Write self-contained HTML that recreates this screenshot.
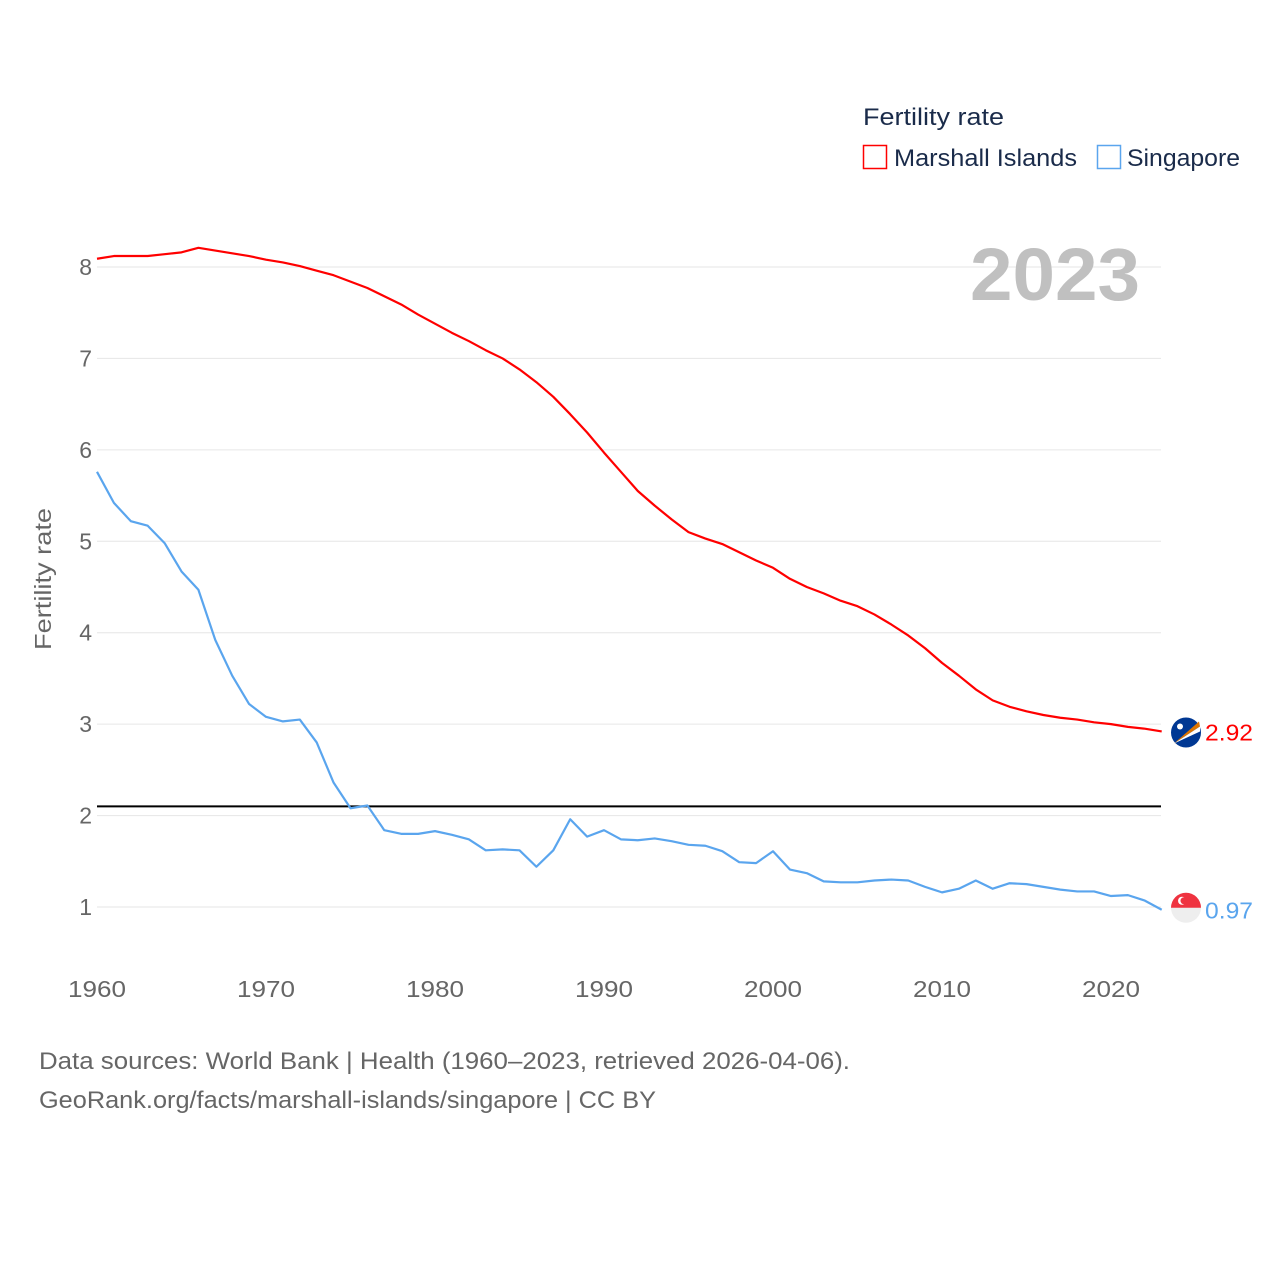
<!DOCTYPE html>
<html><head><meta charset="utf-8">
<style>
body{margin:0;background:#fff;font-family:"Liberation Sans",sans-serif;}
svg{display:block}
</style></head>
<body>
<svg id="chart" width="1280" height="1280">
</svg>
<script>
const years=[];for(let y=1960;y<=2023;y++)years.push(y);
const marshall=[8.09,8.12,8.12,8.12,8.14,8.16,8.21,8.18,8.15,8.12,8.08,8.05,8.01,7.96,7.91,7.84,7.77,7.68,7.59,7.48,7.38,7.28,7.19,7.09,7.00,6.88,6.74,6.58,6.39,6.19,5.97,5.76,5.55,5.39,5.24,5.10,5.03,4.97,4.88,4.79,4.71,4.59,4.50,4.43,4.35,4.29,4.20,4.09,3.97,3.83,3.67,3.53,3.38,3.26,3.19,3.14,3.10,3.07,3.05,3.02,3.00,2.97,2.95,2.92];
const singapore=[5.76,5.42,5.22,5.17,4.98,4.67,4.47,3.92,3.53,3.22,3.08,3.03,3.05,2.80,2.36,2.08,2.11,1.84,1.80,1.80,1.83,1.79,1.74,1.62,1.63,1.62,1.44,1.62,1.96,1.77,1.84,1.74,1.73,1.75,1.72,1.68,1.67,1.61,1.49,1.48,1.61,1.41,1.37,1.28,1.27,1.27,1.29,1.30,1.29,1.22,1.16,1.20,1.29,1.20,1.26,1.25,1.22,1.19,1.17,1.17,1.12,1.13,1.07,0.97];
const yTicks=[1,2,3,4,5,6,7,8];
const xTicks=[1960,1970,1980,1990,2000,2010,2020];
const replacement=2.1;

const NS="http://www.w3.org/2000/svg";
const svg=document.getElementById('chart');
const X=y=>97+(y-1960)*(1111-97)/60;
const Y=v=>907-(v-1)*(907-267)/7;
function el(tag,attrs,parent){const e=document.createElementNS(NS,tag);for(const k in attrs)e.setAttribute(k,attrs[k]);(parent||svg).appendChild(e);return e;}
function txt(s,attrs){const e=el('text',attrs);e.textContent=s;return e;}

yTicks.forEach(v=>{
  const g=el('line',{x1:97,x2:1161,y1:Y(v),y2:Y(v),stroke:'#e6e6e6','stroke-width':1});
  
  
  const t=txt(String(v),{x:92,y:Y(v)+8,'text-anchor':'end','font-size':23,fill:'#666'});
  
  
});
xTicks.forEach(v=>{
  const t=txt(String(v),{x:X(v),y:997,'text-anchor':'middle','font-size':23,fill:'#666',textLength:58,lengthAdjust:'spacingAndGlyphs'});
  
  
});
const yt=txt('Fertility rate',{x:0,y:0,transform:'translate(51,579) rotate(-90)','text-anchor':'middle','font-size':23,fill:'#666',textLength:142,lengthAdjust:'spacingAndGlyphs'});



const yr=txt('2023',{x:970,y:300,'font-size':74,'font-weight':'bold',fill:'#c0c0c0',textLength:170,lengthAdjust:'spacingAndGlyphs'});



const rl=el('line',{x1:97,x2:1161,y1:Y(replacement),y2:Y(replacement),stroke:'#000','stroke-width':2});



function series(vals,color,name){
  const p=el('polyline',{points:vals.map((v,i)=>X(years[i])+','+Y(v)).join(' '),fill:'none',stroke:color,'stroke-width':2.2,'stroke-linejoin':'round'});
  
  
}
series(marshall,'#ff0000','marshall-islands-line');
series(singapore,'#5aa5ee','singapore-line');

const mLast=marshall[marshall.length-1],sLast=singapore[singapore.length-1];
const fm=el('g',{});


el('circle',{cx:1186,cy:Y(mLast)+1,r:15,fill:'#003893'},fm);
el('path',{d:`M1174 ${Y(mLast)+12} L1199 ${Y(mLast)-10} L1200 ${Y(mLast)-5} Z`,fill:'#dd7500'},fm);
el('path',{d:`M1174 ${Y(mLast)+12} L1200 ${Y(mLast)-5} L1200 ${Y(mLast)} Z`,fill:'#fff'},fm);
el('circle',{cx:1180,cy:Y(mLast)-5,r:3,fill:'#fff'},fm);
const ml=txt(mLast.toFixed(2),{x:1205,y:Y(mLast)+9,'font-size':23,fill:'#ff0000',textLength:48,lengthAdjust:'spacingAndGlyphs'});



const fs=el('g',{});


const sy=Y(sLast)-2;
el('circle',{cx:1186,cy:sy,r:15,fill:'#eeeeee'},fs);
el('path',{d:`M1171 ${sy} A15 15 0 0 1 1201 ${sy} Z`,fill:'#ef3340'},fs);
el('circle',{cx:1182,cy:sy-7,r:4,fill:'#fff'},fs);
el('circle',{cx:1184,cy:sy-7,r:3.5,fill:'#ef3340'},fs);
const sl=txt(sLast.toFixed(2),{x:1205,y:Y(sLast)+9,'font-size':23,fill:'#5aa5ee',textLength:48,lengthAdjust:'spacingAndGlyphs'});



const lt=txt('Fertility rate',{x:863,y:125,'font-size':24,fill:'#1a2b4a',textLength:141,lengthAdjust:'spacingAndGlyphs'});


const l1=el('rect',{x:863.5,y:145.5,width:23,height:23,fill:'none',stroke:'#ff0000','stroke-width':1.5});


const l1t=txt('Marshall Islands',{x:894,y:166,'font-size':24,fill:'#1a2b4a',textLength:183,lengthAdjust:'spacingAndGlyphs'});


const l2=el('rect',{x:1097.5,y:145.5,width:23,height:23,fill:'none',stroke:'#5aa5ee','stroke-width':1.5});


const l2t=txt('Singapore',{x:1127,y:166,'font-size':24,fill:'#1a2b4a',textLength:113,lengthAdjust:'spacingAndGlyphs'});



const f1=txt('Data sources: World Bank | Health (1960–2023, retrieved 2026-04-06).',{x:39,y:1069,'font-size':24,fill:'#666',textLength:811,lengthAdjust:'spacingAndGlyphs'});


const f2=txt('GeoRank.org/facts/marshall-islands/singapore | CC BY',{x:39,y:1108,'font-size':24,fill:'#666',textLength:617,lengthAdjust:'spacingAndGlyphs'});


</script>
</body></html>
